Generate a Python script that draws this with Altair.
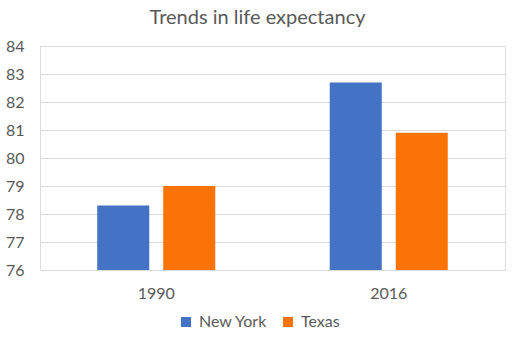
import altair as alt
import pandas as pd

years = ["1990", "2016"]
states = ["New York", "Texas"]
ny_values = [78.3, 82.7]
tx_values = [79.0, 80.9]
colors = ["#4472C4", "#F97306"]

rows = []
for i, y in enumerate(years):
    rows.append({"year": y, "state": "New York", "value": ny_values[i]})
    rows.append({"year": y, "state": "Texas", "value": tx_values[i]})
df = pd.DataFrame(rows)

FONT = "Lato"
GRAY = "#595959"

chart = alt.Chart(df).mark_bar(clip=True).encode(
    x=alt.X("year:N", sort=years, title=None,
            scale=alt.Scale(paddingInner=0, paddingOuter=0),
            axis=alt.Axis(labelAngle=0, ticks=False, domain=False, labelPadding=15,
                          labelFontSize=16, labelColor=GRAY, labelFont=FONT)),
    xOffset=alt.XOffset("state:N", sort=states,
                        scale=alt.Scale(paddingInner=0.212, paddingOuter=0.867)),
    y=alt.Y("value:Q", title=None,
            scale=alt.Scale(domain=[76, 84], nice=False, zero=False),
            axis=alt.Axis(values=[76, 77, 78, 79, 80, 81, 82, 83, 84], ticks=False, domain=False,
                          labelPadding=16, labelFontSize=16, labelColor=GRAY, labelFont=FONT,
                          gridColor="#D9D9D9", gridWidth=1)),
    y2=alt.datum(76),
    color=alt.Color("state:N", sort=states, title=None,
                    scale=alt.Scale(domain=states, range=colors),
                    legend=alt.Legend(orient="none", legendX=138, legendY=268,
                                      direction="horizontal", symbolType="square",
                                      symbolSize=100, symbolStrokeWidth=0, labelFontSize=16,
                                      labelColor=GRAY, labelFont=FONT, columnPadding=12,
                                      labelOffset=5, symbolOpacity=1)),
).properties(
    width=465, height=224,
    title=alt.TitleParams("Trends in life expectancy", fontSize=20, font=FONT,
                          color=GRAY, fontWeight="normal", anchor="middle", offset=10, dx=-15),
    autosize=alt.AutoSizeParams(type="none"),
    padding={"left": 40, "top": 46, "right": 10, "bottom": 75},
).configure_view(stroke=None).configure(background="white")

chart.save("out.html", embed_options={"renderer": "svg", "actions": False})
